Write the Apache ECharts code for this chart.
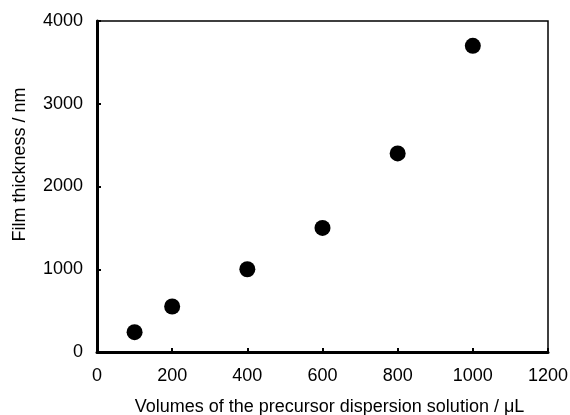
<!DOCTYPE html>
<html>
<head>
<meta charset="utf-8">
<script src="https://cdn.jsdelivr.net/npm/echarts@6/dist/echarts.min.js"></script>
<style>
 html,body{margin:0;padding:0;background:#fff;}
 #chart{width:570px;height:415px;}
</style>
</head>
<body>
<div id="chart"></div>
<script>
// volume (uL) vs film thickness (nm)
var volumes = [100, 200, 400, 600, 800, 1000];
var thickness = [240, 550, 1000, 1500, 2400, 3700];
var xTicks = [0, 200, 400, 600, 800, 1000, 1200];
var yTicks = [0, 1000, 2000, 3000, 4000];

var points = [];
for (var i = 0; i < volumes.length; i++) {
	points.push([volumes[i], thickness[i]]);
}

var chart = echarts.init(document.getElementById('chart'));
var font = 'Liberation Sans, Arial, sans-serif';
function plain(v) { return String(v); }
chart.setOption({
	animation: false,
	grid: {
		left: 97, top: 21, right: 22, bottom: 63,
		outerBoundsMode: 'none',
		containLabel: false,
		show: true,
		borderColor: '#000',
		borderWidth: 1.5
	},
	xAxis: {
		type: 'value',
		min: xTicks[0],
		max: xTicks[xTicks.length - 1],
		interval: 200,
		name: 'Volumes of the precursor dispersion solution / μL',
		nameLocation: 'middle',
		nameGap: 46,
		nameTextStyle: { color: '#000', fontSize: 18, fontFamily: font, padding: [0, 0, 0, 14] },
		axisLine: { lineStyle: { color: '#000', width: 3 } },
		axisTick: { inside: true, length: 4, lineStyle: { color: '#000', width: 2 } },
		axisLabel: { color: '#000', fontSize: 18, fontFamily: font, margin: 15, formatter: plain },
		splitLine: { show: false }
	},
	yAxis: {
		type: 'value',
		min: yTicks[0],
		max: yTicks[yTicks.length - 1],
		interval: 1000,
		name: 'Film thickness / nm',
		nameLocation: 'middle',
		nameGap: 68,
		nameTextStyle: { color: '#000', fontSize: 18, fontFamily: font, padding: [0, 0, 0, 44] },
		axisLine: { lineStyle: { color: '#000', width: 3 } },
		axisTick: { inside: true, length: 4, lineStyle: { color: '#000', width: 2 } },
		axisLabel: { color: '#000', fontSize: 18, fontFamily: font, margin: 14, formatter: plain },
		splitLine: { show: false }
	},
	series: [{
		type: 'scatter',
		symbol: 'circle',
		symbolSize: 16,
		itemStyle: { color: '#000', opacity: 1 },
		data: points
	}]
});
</script>
</body>
</html>
